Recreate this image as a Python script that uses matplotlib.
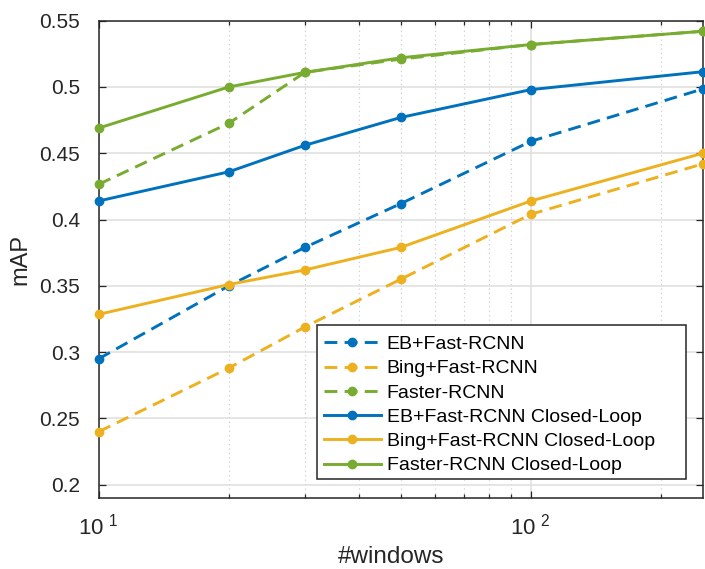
import math
import matplotlib
matplotlib.use("Agg")
import matplotlib.pyplot as plt
from matplotlib.patches import Rectangle
from matplotlib.ticker import FixedLocator, FuncFormatter, NullFormatter

plt.rcParams['font.family'] = ['Liberation Sans', 'DejaVu Sans']
plt.rcParams['mathtext.default'] = 'regular'

windows = [10, 20, 30, 50, 100, 250]

eb_fast = [0.295, 0.350, 0.379, 0.412, 0.459, 0.4985]
bing_fast = [0.240, 0.288, 0.319, 0.355, 0.404, 0.442]
faster = [0.4266, 0.4726, 0.511, 0.521, 0.532, 0.542]
eb_closed = [0.414, 0.436, 0.456, 0.477, 0.498, 0.5115]
bing_closed = [0.3285, 0.351, 0.362, 0.379, 0.414, 0.450]
faster_closed = [0.469, 0.500, 0.511, 0.522, 0.532, 0.542]

labels = ["EB+Fast-RCNN", "Bing+Fast-RCNN", "Faster-RCNN",
          "EB+Fast-RCNN Closed-Loop", "Bing+Fast-RCNN Closed-Loop",
          "Faster-RCNN Closed-Loop"]

yticks = [0.2, 0.25, 0.3, 0.35, 0.4, 0.45, 0.5, 0.55]
yticklabels = ["0.2", "0.25", "0.3", "0.35", "0.4", "0.45", "0.5", "0.55"]

blue = "#0072BD"
orange = "#EDB120"
green = "#77AC30"
ink = "#262626"

fig = plt.figure(figsize=(7.05, 5.69), dpi=100)
ax = fig.add_axes([0.140, 0.1248, 0.857, 0.8389])

series = [
    (eb_fast, blue, '--'), (bing_fast, orange, '--'), (faster, green, '--'),
    (eb_closed, blue, '-'), (bing_closed, orange, '-'), (faster_closed, green, '-'),
]
for (vals, col, ls), lab in zip(series, labels):
    kw = dict(color=col, linestyle=ls, linewidth=2.1, marker='o',
              markersize=6, label=lab, clip_on=False, zorder=3)
    if ls == '--':
        kw['dashes'] = (4.4, 2.5)
    ax.plot(windows, vals, **kw)

ax.set_xscale('log')
ax.set_xlim(10, 250)
ax.set_ylim(0.19, 0.55)

ax.xaxis.set_major_locator(FixedLocator([10, 100]))
ax.xaxis.set_minor_locator(FixedLocator([20, 30, 40, 50, 60, 70, 80, 90, 200]))
ax.xaxis.set_major_formatter(FuncFormatter(
    lambda v, p: r"$10\;{}^{%d}$" % round(math.log10(v))))
ax.xaxis.set_minor_formatter(NullFormatter())

ax.set_yticks(yticks)
ax.set_yticklabels(yticklabels)

ax.grid(True, which='major', color='#dedede', linewidth=1.1, linestyle='-')
ax.grid(True, which='minor', axis='x', color='#c8c8c8', linewidth=0.8,
        linestyle=(0, (1, 3)))
ax.set_axisbelow(True)

for s in ax.spines.values():
    s.set_color(ink)
    s.set_linewidth(1.1)
ax.tick_params(which='both', direction='in', top=True, right=True,
               colors=ink, labelcolor=ink)
ax.tick_params(which='major', length=5, width=0.9)
ax.tick_params(which='minor', length=3, width=0.9)
ax.tick_params(axis='y', which='major', labelsize=15, pad=13.5)
ax.tick_params(axis='x', which='major', labelsize=16, pad=11)

# x label placed by baseline so nothing runs past the bottom edge
fig.text(391 / 705, 1 - 563 / 569, "#windows", fontsize=17.5, color=ink,
         ha='center', va='baseline')
ax.set_ylabel("mAP", fontsize=17, color=ink, labelpad=5.5)

# legend: white framed box, entries drawn without their own frame
box_x0, box_x1 = 0.3612, 0.9719
box_y0, box_y1 = 0.0398, 0.3625
ax.add_patch(Rectangle((box_x0, box_y0), box_x1 - box_x0, box_y1 - box_y0,
                       transform=ax.transAxes, facecolor='white',
                       edgecolor=ink, linewidth=1.1, zorder=4.5))
leg = ax.legend(loc='upper left', bbox_to_anchor=(box_x0 - 0.0066, box_y1),
                borderaxespad=0, fontsize=14, handlelength=2.95,
                handletextpad=0.3, labelspacing=0.34, borderpad=0.55,
                frameon=False)
leg.set_zorder(5)

fig.savefig("out.png", dpi=100)
